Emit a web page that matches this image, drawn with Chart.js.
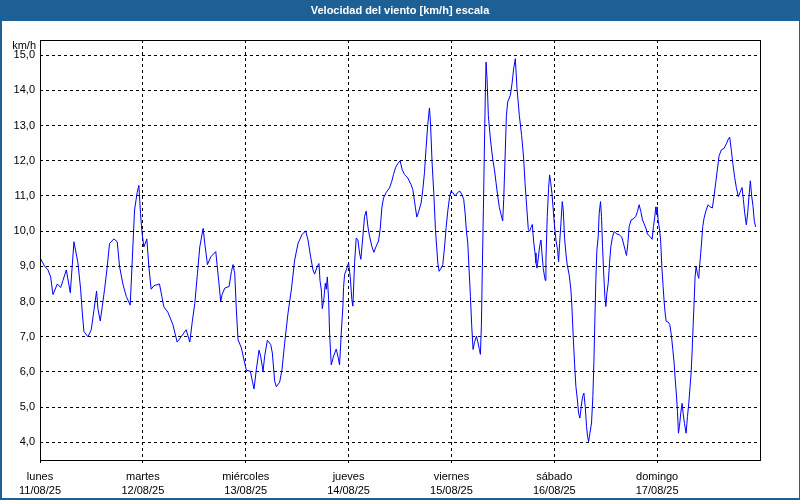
<!DOCTYPE html>
<html lang="es">
<head>
<meta charset="utf-8">
<title>Velocidad del viento</title>
<script src="https://cdn.jsdelivr.net/npm/chart.js@4/dist/chart.umd.min.js"></script>
<style>
    html, body { margin: 0; padding: 0; background: #fff; }
    #grafico { display: block; }
</style>
</head>
<body>
<canvas id="grafico" width="800" height="500"></canvas>
<script>
//datos del gráfico
const titulo = "Velocidad del viento [km/h] escala";
const unidad = "km/h";
const dias = ["lunes", "martes", "miércoles", "jueves", "viernes", "sábado", "domingo"];
const fechas = ["11/08/25", "12/08/25", "13/08/25", "14/08/25", "15/08/25", "16/08/25", "17/08/25"];
const posDias = [0, 24, 48, 72, 96, 120, 144]; //horas desde el lunes 00:00
const yTicks = [4, 5, 6, 7, 8, 9, 10, 11, 12, 13, 14, 15];
//horas desde el lunes 00:00
const horas = [
    0.0, 1.09, 1.86, 2.49, 3.03, 4.04, 4.82, 5.36, 6.14, 7.07, 7.92, 8.85, 9.48, 9.86, 10.25, 11.18, 11.96, 12.58, 13.2, 13.51,
    14.06, 14.52, 15.07, 15.61, 16.23, 17.24, 18.02, 18.56, 19.34, 20.12, 21.05, 21.67, 22.06, 22.68, 23.07, 23.46, 23.77, 24.23, 24.93, 25.4,
    25.94, 26.56, 27.88, 28.43, 28.89, 29.83, 30.99, 32.0, 32.93, 34.1,
    34.95, 35.5, 36.12, 36.74, 37.28, 38.06, 38.45, 39.07, 39.85, 41.01, 41.32, 41.71, 42.17, 42.49, 43.11, 44.12, 44.66, 45.05, 45.44, 45.82,
    46.21, 46.99, 47.77, 48.16, 49.09, 49.55, 49.94, 50.48, 51.11, 51.49, 52.04, 52.43, 53.05, 53.83, 54.21, 54.76, 55.15, 55.92, 56.47, 57.09,
    57.87, 58.64, 59.42, 60.2, 61.13, 61.99, 62.53, 63.15, 63.69, 64.08, 64.7, 65.09, 65.33, 65.64, 65.87, 66.26, 66.57, 66.8, 67.04, 67.35,
    67.57, 67.96, 68.5, 69.12, 69.51, 69.9, 70.29, 70.68, 70.83, 71.07, 71.61, 72.0, 72.39, 72.77, 73.01, 73.4, 73.78, 74.17, 74.56, 74.87,
    75.34, 75.73, 76.11, 76.5, 76.89, 77.43, 77.9, 78.44, 78.99, 79.38, 79.76, 80.15, 80.77, 81.55, 82.09, 82.48, 82.95, 83.49, 84.04, 84.5,
    85.05, 85.82, 86.6, 86.99, 87.38, 87.61, 87.92, 88.39, 88.93, 89.32, 89.71, 90.09, 90.48, 90.87, 91.1, 91.49, 91.88, 92.27,
    92.82, 93.13, 93.59, 93.98, 94.37, 94.76, 95.15, 95.54, 95.92, 96.31, 96.86, 97.48, 97.94, 98.41, 98.87, 99.19, 99.5, 99.81, 100.12, 100.43,
    100.74, 101.05, 101.36, 101.83, 102.21, 102.53, 102.76, 102.99, 103.22, 103.46, 103.69, 103.92, 104.08, 104.31, 104.62, 105.09, 105.63, 106.02, 106.41, 106.8,
    107.19, 107.57, 107.96, 108.2, 108.51, 108.82, 109.13, 109.75, 110.14, 110.53, 110.91, 111.3, 111.85, 112.39, 112.86, 113.17, 113.55, 113.94, 114.25, 114.56,
    114.87, 115.18, 115.5, 115.73, 115.96, 116.27, 116.58,
    116.89, 117.12, 117.43, 117.74, 117.9, 118.05, 118.36, 118.67, 118.91, 119.14, 119.45, 119.76, 120.07, 120.38, 120.77, 121.0, 121.24, 121.55, 121.86, 122.09,
    122.4, 122.71, 123.02, 123.49, 123.88, 124.11, 124.42, 124.73, 125.04, 125.35, 125.67, 125.98, 126.29, 126.6, 126.91, 127.22, 127.53, 127.76, 128.0, 128.31,
    128.69, 129.0, 129.24, 129.47, 129.7, 129.94, 130.25, 130.48, 130.79, 131.02, 131.26, 131.49, 131.8, 132.03, 132.27, 132.58, 132.89, 133.2, 133.59, 133.98,
    134.6, 135.14, 135.76, 136.23, 136.54, 136.85, 137.16, 137.47, 137.94, 138.48, 139.02, 139.41, 139.8, 140.19, 140.58,
    140.97, 141.36, 141.75, 142.29, 142.83, 143.14, 143.46, 143.69, 143.84, 144.0, 144.23, 144.62, 144.85, 145.09, 145.4, 145.63, 145.86, 146.1, 146.56, 146.95,
    147.34, 147.65, 147.96, 148.19, 148.5, 148.74, 148.97, 149.2, 149.51, 149.82, 150.06, 150.37, 150.76, 151.07, 151.38, 151.69, 151.92, 152.15, 152.39, 152.62,
    152.85, 153.09, 153.4, 153.71, 153.86, 154.17, 154.41, 154.64, 154.95, 155.34, 155.88, 156.35, 156.89, 157.28, 157.67, 158.06, 158.45, 158.99, 159.61, 160.15,
    160.62, 160.93, 161.32, 161.63, 162.1, 162.48, 162.95, 163.34, 163.81, 164.12, 164.43, 164.81, 165.13, 165.44, 165.75, 166.06, 166.37, 166.68, 166.99
];
//velocidad del viento en km/h
const velocidad = [
    9.25, 9.0, 8.9, 8.7, 8.2, 8.5, 8.4, 8.6, 8.9, 8.25, 9.7, 9.1, 8.35, 7.7, 7.15, 7.0, 7.2, 7.75, 8.3, 7.8,
    7.45, 7.85, 8.35, 8.9, 9.65, 9.78, 9.7, 9.0, 8.5, 8.15, 7.9, 9.55, 10.6, 11.1, 11.3, 10.5, 10.0, 9.55, 9.78, 9.0,
    8.35, 8.45, 8.5, 8.15, 7.85, 7.7, 7.35, 6.85, 7.0, 7.2,
    6.85, 7.4, 7.95, 8.8, 9.55, 10.08, 9.65, 9.05, 9.27, 9.42, 9.05, 8.57, 8.0, 8.2, 8.38, 8.43, 8.85, 9.05, 8.8, 7.76,
    6.92, 6.68, 6.25, 6.05, 6.02, 5.74, 5.52, 6.07, 6.62, 6.45, 6.02, 6.45, 6.9, 6.78, 6.54, 5.74, 5.58, 5.71, 6.07, 6.82,
    7.67, 8.33, 9.18, 9.65, 9.9, 10.01, 9.75, 9.27, 8.9, 8.78, 9.0, 9.08, 8.6, 8.33, 7.8, 8.1, 8.52, 8.35, 8.7, 8.05,
    7.1, 6.2, 6.45, 6.65, 6.45, 6.2, 7.1, 7.87, 8.4, 8.77, 8.95, 9.1, 8.7, 8.05, 7.87, 9.1, 9.8, 9.76, 9.38, 9.2,
    9.86, 10.42, 10.57, 10.14, 9.86, 9.57, 9.4, 9.57, 9.72, 10.05, 10.66, 10.94, 11.1, 11.23, 11.42, 11.61, 11.8, 11.92, 12.0, 11.75,
    11.61, 11.51, 11.32, 11.18, 10.85, 10.66, 10.4, 10.57, 10.8, 11.18, 11.66, 12.37, 13.03, 13.5, 13.12, 11.94, 11.09, 10.05,
    9.1, 8.86, 8.95, 9.05, 9.52, 10.1, 10.57, 10.95, 11.14, 11.1, 11.0, 11.1, 11.14, 11.05, 10.9, 10.52, 10.0, 9.67, 8.9, 8.15,
    7.3, 6.64, 6.83, 7.02, 6.83, 6.64, 6.5, 7.3, 9.0, 10.62, 12.33, 13.95, 14.8, 14.33, 13.28, 12.62, 12.05, 11.76, 11.38, 11.0,
    10.67, 10.48, 10.29, 10.9, 12.05, 13.28, 13.67, 13.86, 14.19, 14.62, 14.9, 14.05, 13.28, 12.71, 12.05, 11.38, 10.71, 10.05, 10.0, 10.1,
    10.19, 9.71, 9.38, 9.1, 8.95, 9.24, 9.57,
    9.75, 9.37, 8.94, 8.7, 8.6, 9.17, 10.42, 11.22, 11.6, 11.41, 11.08, 10.6, 10.13, 9.75, 9.46, 9.13, 9.65, 10.23, 10.84, 10.6,
    9.8, 9.37, 9.04, 8.75, 8.33, 7.86, 7.0, 6.25, 5.59, 5.26, 4.83, 4.69, 5.02, 5.3, 5.4, 5.02, 4.45, 4.17, 4.02, 4.26,
    4.55, 5.3, 6.25, 7.48, 8.62, 9.46, 9.84, 10.51, 10.84, 10.42, 9.56, 8.9, 8.15, 7.86, 8.24, 8.52, 9.09, 9.56, 9.84, 9.99,
    9.92, 9.9, 9.83, 9.61, 9.46, 9.31, 9.65, 10.13, 10.32, 10.35, 10.42, 10.56, 10.75, 10.56, 10.32,
    10.21, 10.09, 9.92, 9.85, 9.77, 10.13, 10.42, 10.69, 10.47, 10.69, 10.32, 9.99, 9.66, 8.99, 8.42, 8.0, 7.68, 7.44, 7.42, 7.35,
    7.02, 6.64, 6.26, 5.83, 5.35, 4.88, 4.26, 4.45, 4.83, 5.11, 4.83, 4.54, 4.26, 4.73, 5.11, 5.59, 5.97, 6.54, 7.3, 7.96,
    8.7, 8.99, 8.8, 8.66, 8.94, 9.37, 9.75, 10.13, 10.37, 10.56, 10.75, 10.69, 10.66, 11.0, 11.38, 11.76, 12.14, 12.31, 12.35, 12.48,
    12.62, 12.67, 12.29, 11.95, 11.52, 11.24, 10.98, 11.1, 11.24, 10.9, 10.52, 10.18, 10.52, 11.0, 11.43, 11.0, 10.71, 10.28, 10.12
];

const azul = "#1d6096";
const fuente = '"Liberation Sans", Arial, sans-serif';
Chart.defaults.font.family = fuente;
Chart.defaults.font.size = 11;
Chart.defaults.color = "#000";

//fondo, barra de título y marco azul
const fondo = {
    id: "fondo",
    beforeDraw: (chart) => {
        const c = chart.ctx;
        c.save();
        c.fillStyle = azul;
        c.fillRect(0, 0, chart.width, chart.height);
        c.fillStyle = "#fdfefd";
        c.fillRect(2, 21, chart.width - 3, chart.height - 23);
        c.fillStyle = "#fff";
        c.font = "bold 11px " + fuente;
        c.textAlign = "center";
        c.textBaseline = "middle";
        c.fillText(titulo, chart.width / 2, 11);
        c.restore();
    }
};

//recuadro negro del área y unidad
const recuadro = {
    id: "recuadro",
    afterDraw: (chart) => {
        const a = chart.chartArea;
        const c = chart.ctx;
        c.save();
        c.strokeStyle = "#000";
        c.lineWidth = 1;
        c.setLineDash([]);
        c.strokeRect(a.left + 0.5, a.top + 0.5, a.right - a.left, a.bottom - a.top);
        c.fillStyle = "#000";
        c.font = "11px " + fuente;
        c.textAlign = "right";
        c.textBaseline = "middle";
        c.fillText(unidad, a.left - 4, a.top + 6);
        c.restore();
    }
};

const ctx = document.getElementById("grafico").getContext("2d");
const grafico = new Chart(ctx, {
    type: "line",
    data: {
        datasets: [{
            data: horas.map((h, i) => ({ x: h, y: velocidad[i] })),
            borderColor: "#0000ff",
            borderWidth: 1,
            pointRadius: 0,
            tension: 0,
            fill: false
        }]
    },
    options: {
        responsive: false,
        animation: false,
        devicePixelRatio: 1,
        layout: { padding: { top: 40, right: 40, left: 0, bottom: 0 } },
        plugins: {
            legend: { display: false },
            tooltip: { enabled: false },
            title: { display: false }
        },
        scales: {
            x: {
                type: "linear",
                min: 0,
                max: 168,
                afterFit: (scale) => { scale.height = 40; },
                afterBuildTicks: (scale) => { scale.ticks = posDias.map(v => ({ value: v })); },
                grid: { color: "#000", lineWidth: 1, drawTicks: true, tickLength: 3, tickColor: "#000" },
                border: { display: false, dash: [3, 3] },
                ticks: {
                    autoSkip: false,
                    maxRotation: 0,
                    padding: 7,
                    font: { size: 11, lineHeight: "14px" },
                    callback: (value, index) => [dias[index], fechas[index]]
                }
            },
            y: {
                min: 3.5,
                max: 15.43,
                afterFit: (scale) => { scale.width = 40; },
                afterBuildTicks: (scale) => { scale.ticks = yTicks.map(v => ({ value: v })); },
                grid: { color: "#000", lineWidth: 1, drawTicks: false },
                border: { display: false, dash: [3, 3] },
                ticks: {
                    padding: 5,
                    callback: (value) => value.toFixed(1).replace(".", ",")
                }
            }
        }
    },
    plugins: [fondo, recuadro]
});
</script>
</body>
</html>
